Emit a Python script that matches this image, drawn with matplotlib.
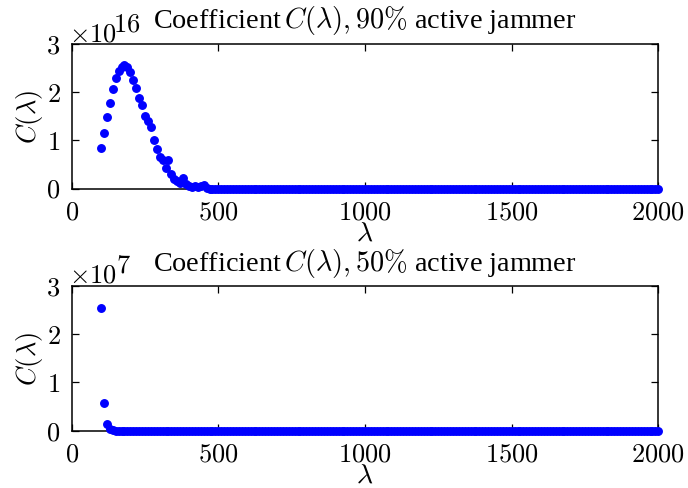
import numpy as np
import matplotlib
matplotlib.use("Agg")
import matplotlib.pyplot as plt

plt.rcParams['mathtext.fontset'] = 'cm'
plt.rcParams['font.family'] = ['Liberation Serif', 'DejaVu Serif']

# ---------------- data ----------------
lam_step = 10
lam_start = 100
lam_end = 2000

# 90% active jammer, values in units of 1e16, lambda = 100..460
c90_head = [0.84, 1.15, 1.48, 1.78, 2.07, 2.29, 2.44, 2.53, 2.56, 2.53,
            2.41, 2.26, 2.08, 1.88, 1.73, 1.50, 1.41, 1.27, 1.01, 0.82,
            0.65, 0.59, 0.42, 0.59, 0.30, 0.20, 0.15, 0.12, 0.21, 0.09,
            0.05, 0.04, 0.06, 0.03, 0.05, 0.08, 0.02]
c90_exp = 16

# 50% active jammer, values in units of 1e7, lambda = 100..140
c50_head = [2.54, 0.58, 0.13, 0.03, 0.01]
c50_exp = 7

xticks = [0, 500, 1000, 1500, 2000]
xtick_labels = ['0', '500', '1000', '1500', '2000']
yticks = [0, 1, 2, 3]
ytick_labels = ['0', '1', '2', '3']

titles = [r'Coefficient$\,C(\lambda),90\%$ active jammer',
          r'Coefficient$\,C(\lambda),50\%$ active jammer']

lam = np.arange(lam_start, lam_end + 1, lam_step)


def full_series(head):
    vals = np.zeros(len(lam))  # remaining values sit on zero
    vals[:len(head)] = head
    return vals


series = [(full_series(c90_head), c90_exp), (full_series(c50_head), c50_exp)]

# ---------------- figure ----------------
W, H = 688, 489
fig = plt.figure(figsize=(W / 100, H / 100), dpi=100)

left = 71.7 / W
width = (658.3 - 71.7) / W
axes_px = [(45.0, 189.5), (286.7, 431.7)]
title_pads = [12.0, 11.0]
sup_x = [113, 116]
FS = 19
TFS = 20.3

for i, ((vals, ex), (top, bot)) in enumerate(zip(series, axes_px)):
    ax = fig.add_axes([left, 1 - bot / H, width, (bot - top) / H])
    scale = 10.0 ** ex
    ax.plot(lam, vals * scale, 'o', color='#0000ff', ms=5.4, mec='#0000ff',
            clip_on=False, zorder=3)
    ax.set_xlim(0, 2000)
    ax.set_ylim(0, 3 * scale)
    ax.set_xticks(xticks)
    ax.set_xticklabels(['$%s$' % t for t in xtick_labels], fontsize=FS)
    ax.set_yticks([y * scale for y in yticks])
    ax.set_yticklabels(['$%s$' % t for t in ytick_labels], fontsize=FS)
    ax.tick_params(direction='in', top=True, right=True, length=5, width=0.9,
                   color='black')
    ax.tick_params(axis='x', pad=9)
    ax.tick_params(axis='y', pad=8)
    for s in ax.spines.values():
        s.set_linewidth(1.1)
    ax.set_xlabel(r'$\lambda$', fontsize=FS + 1, labelpad=-1.5)
    ax.set_ylabel(r'$C(\lambda)$', fontsize=FS, labelpad=1)
    ax.set_title(titles[i], fontsize=TFS, pad=title_pads[i])
    # MATLAB-style exponent label
    fig.text(69 / W, 1 - (top - 4) / H, r'$\times10$', fontsize=FS,
             ha='left', va='baseline')
    fig.text(sup_x[i] / W, 1 - (top - 14) / H, r'$%d$' % ex, fontsize=FS,
             ha='left', va='baseline')

fig.savefig('out.png', dpi=100)
